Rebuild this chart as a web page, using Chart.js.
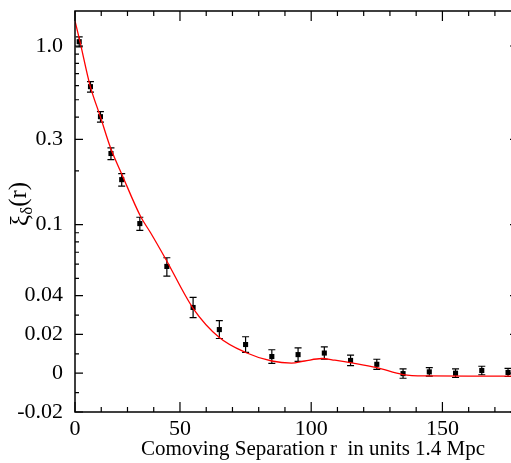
<!DOCTYPE html>
<html>
<head>
<meta charset="utf-8">
<script src="https://cdn.jsdelivr.net/npm/chart.js@4.4.1/dist/chart.umd.min.js"></script>
<style>
    html, body { margin: 0; padding: 0; background: #fff; overflow: hidden; }
    #wrap { position: relative; width: 511px; height: 463px; overflow: hidden; }
</style>
</head>
<body>
<!-- canvas is a bit wider than the picture: the right edge of the frame falls outside it -->
<div id="wrap"><canvas id="chart" width="530" height="463" style="width:530px;height:463px"></canvas></div>
<script>
/* ============================================================
   DATA
============================================================ */
// measured correlation function, separation in units of 1.4 Mpc
const sepR  = [11.6, 15.9, 19.7, 23.7, 27.8, 34.7, 45, 55, 65, 75, 85, 95, 105, 115, 125, 135, 145, 155, 165, 175];
const xiVal = [1.057, 0.592, 0.402, 0.250, 0.1785, 0.1013, 0.0583, 0.0339, 0.0225, 0.0148, 0.0086, 0.0096, 0.0104, 0.0066, 0.0046, -0.0002, 0.0007, 0.0000, 0.0014, 0.0004];
const xiErr = [0.068, 0.040, 0.027, 0.019, 0.0143, 0.0086, 0.0069, 0.0052, 0.0046, 0.0040, 0.0035, 0.0035, 0.0032, 0.0027, 0.0026, 0.0024, 0.0022, 0.0022, 0.0022, 0.0021];

// model curve (red line)
const modelR  = [10, 11.7, 15.8, 19.6, 23.5, 28, 35, 38.8, 44.6, 55, 65, 75, 85, 92.5, 97.5, 104, 109, 116, 125, 135, 144, 160, 178];
const modelXi = [1.38, 1.09, 0.596, 0.405, 0.270, 0.189, 0.111, 0.090, 0.064, 0.0335, 0.0184, 0.0107, 0.0063, 0.0052, 0.0063, 0.0076, 0.0067, 0.0052, 0.0029, -0.0007, -0.0014, -0.0015, -0.0015];

// axis ticks
const X_MAJOR = [10, 50, 100, 150];
const X_MAJOR_LABELS = ["0", "50", "100", "150"];
const X_MINOR = [20, 30, 40, 60, 70, 80, 90, 110, 120, 130, 140, 160, 170];

const Y_MAJOR = [-0.02, 0, 0.02, 0.04, 0.1, 0.3, 1.0];
const Y_MAJOR_LABELS = ["-0.02", "0", "0.02", "0.04", "0.1", "0.3", "1.0"];
const Y_MINOR = [-0.01, 0.01, 0.03, 0.05, 0.06, 0.07, 0.08, 0.09, 0.2, 0.4, 0.5, 0.6, 0.7, 0.8, 0.9];

/* ============================================================
   Linear-below / log-above y scale
============================================================ */
const LIN_EDGE = 0.04;
function fwd(v) { return v <= LIN_EDGE ? v / LIN_EDGE : 1 + Math.log(v / LIN_EDGE); }
function inv(t) { return t <= 1 ? t * LIN_EDGE : LIN_EDGE * Math.exp(t - 1); }

class LinLogScale extends Chart.Scale {
    parse(raw) { return raw === null || raw === undefined ? null : +raw; }
    determineDataLimits() {
        this.min = this.options.min;
        this.max = this.options.max;
    }
    buildTicks() {
        return [...Y_MAJOR, ...Y_MINOR].sort((a, b) => a - b).map(v => ({ value: v }));
    }
    getLabelForValue(v) { return String(v); }
    configure() {
        super.configure();
        this._t0 = fwd(this.min);
        this._tr = fwd(this.max) - this._t0;
    }
    getPixelForValue(v) {
        if (v === null || v === undefined || isNaN(v)) return NaN;
        return this.getPixelForDecimal((fwd(v) - this._t0) / this._tr);
    }
    getValueForPixel(p) {
        return inv(this._t0 + this.getDecimalForPixel(p) * this._tr);
    }
}
LinLogScale.id = "linlog";
LinLogScale.defaults = {};
Chart.register(LinLogScale);

/* ============================================================
   Plugins: error bars, frame + ticks, axis titles
============================================================ */
const errorBars = {
    id: "errorBars",
    beforeDatasetDraw(chart, args) {
        if (args.index !== 1) return;
        const { ctx, scales: { x, y } } = chart;
        ctx.save();
        ctx.strokeStyle = "#000";
        ctx.lineWidth = 1.2;
        sepR.forEach((r, i) => {
            const px = x.getPixelForValue(r);
            const top = y.getPixelForValue(xiVal[i] + xiErr[i]);
            const bot = y.getPixelForValue(xiVal[i] - xiErr[i]);
            ctx.beginPath();
            ctx.moveTo(px, top); ctx.lineTo(px, bot);
            ctx.moveTo(px - 3.5, top); ctx.lineTo(px + 3.5, top);
            ctx.moveTo(px - 3.5, bot); ctx.lineTo(px + 3.5, bot);
            ctx.stroke();
        });
        ctx.restore();
    }
};

const frame = {
    id: "frame",
    afterDatasetsDraw(chart) {
        const { ctx, chartArea: a, scales: { x, y } } = chart;
        ctx.save();
        ctx.strokeStyle = "#000";
        ctx.lineWidth = 1.5;
        ctx.strokeRect(a.left, a.top, a.right - a.left, a.bottom - a.top);

        ctx.lineWidth = 1.2;
        ctx.beginPath();
        const xt = (vals, len) => vals.forEach(v => {
            const p = x.getPixelForValue(v);
            ctx.moveTo(p, a.bottom); ctx.lineTo(p, a.bottom - len);
            ctx.moveTo(p, a.top); ctx.lineTo(p, a.top + len);
        });
        const yt = (vals, len) => vals.forEach(v => {
            const p = y.getPixelForValue(v);
            ctx.moveTo(a.left, p); ctx.lineTo(a.left + len, p);
            ctx.moveTo(a.right, p); ctx.lineTo(a.right - len, p);
        });
        xt(X_MAJOR, 10); xt(X_MINOR, 5);
        yt(Y_MAJOR, 8);  yt(Y_MINOR, 4);
        ctx.stroke();

        // axis titles
        ctx.fillStyle = "#000";
        ctx.textBaseline = "alphabetic";
        ctx.font = "21px 'Liberation Serif', serif";
        ctx.textAlign = "center";
        ctx.fillText("Comoving Separation r  in units 1.4 Mpc", 313, 455);

        ctx.translate(28, 226);
        ctx.rotate(-Math.PI / 2);
        ctx.textAlign = "left";
        ctx.font = "25px 'Liberation Serif', serif";
        ctx.fillText("\u03BE", 0, 0);
        let w = ctx.measureText("\u03BE").width;
        ctx.font = "17px 'Liberation Serif', serif";
        ctx.fillText("\u03B4", w, 4);
        w += ctx.measureText("\u03B4").width;
        ctx.font = "25px 'Liberation Serif', serif";
        ctx.fillText("(r)", w, -2);
        ctx.restore();
    }
};

/* ============================================================
   Chart
============================================================ */
const tickFont = { family: "'Liberation Serif', serif", size: 22 };

new Chart(document.getElementById("chart"), {
    data: {
        datasets: [
            {
                type: "line",
                data: modelR.map((r, i) => ({ x: r, y: modelXi[i] })),
                borderColor: "#ff0000",
                borderWidth: 1.3,
                pointRadius: 0,
                cubicInterpolationMode: "monotone",
                fill: false
            },
            {
                type: "scatter",
                data: sepR.map((r, i) => ({ x: r, y: xiVal[i] })),
                pointStyle: "rect",
                pointRadius: 3.6,
                backgroundColor: "#000",
                borderColor: "#000",
                borderWidth: 0
            }
        ]
    },
    options: {
        responsive: false,
        animation: false,
        events: [],
        layout: { padding: { top: 11, right: 12, left: 0, bottom: 0 } },
        plugins: { legend: { display: false }, tooltip: { enabled: false } },
        scales: {
            x: {
                type: "linear",
                min: 10,
                max: 178.8,
                grid: { display: false, drawTicks: false },
                border: { display: false },
                afterBuildTicks: s => { s.ticks = [...X_MAJOR, ...X_MINOR].sort((a, b) => a - b).map(v => ({ value: v })); },
                afterFit: s => { s.height = 51; s.paddingLeft = 0; s.paddingRight = 0; },
                ticks: {
                    autoSkip: false,
                    maxRotation: 0,
                    padding: 4,
                    color: "#000",
                    font: tickFont,
                    callback: v => { const i = X_MAJOR.indexOf(v); return i >= 0 ? X_MAJOR_LABELS[i] : ""; }
                }
            },
            y: {
                type: "linlog",
                position: "left",
                min: -0.02,
                max: 1.57,
                grid: { display: false, drawTicks: false },
                border: { display: false },
                afterFit: s => { s.width = 75; s.paddingTop = 0; s.paddingBottom = 0; },
                ticks: {
                    autoSkip: false,
                    padding: 12,
                    color: "#000",
                    font: tickFont,
                    callback: v => { const i = Y_MAJOR.indexOf(v); return i >= 0 ? Y_MAJOR_LABELS[i] : ""; }
                }
            }
        }
    },
    plugins: [errorBars, frame]
});
</script>
</body>
</html>
